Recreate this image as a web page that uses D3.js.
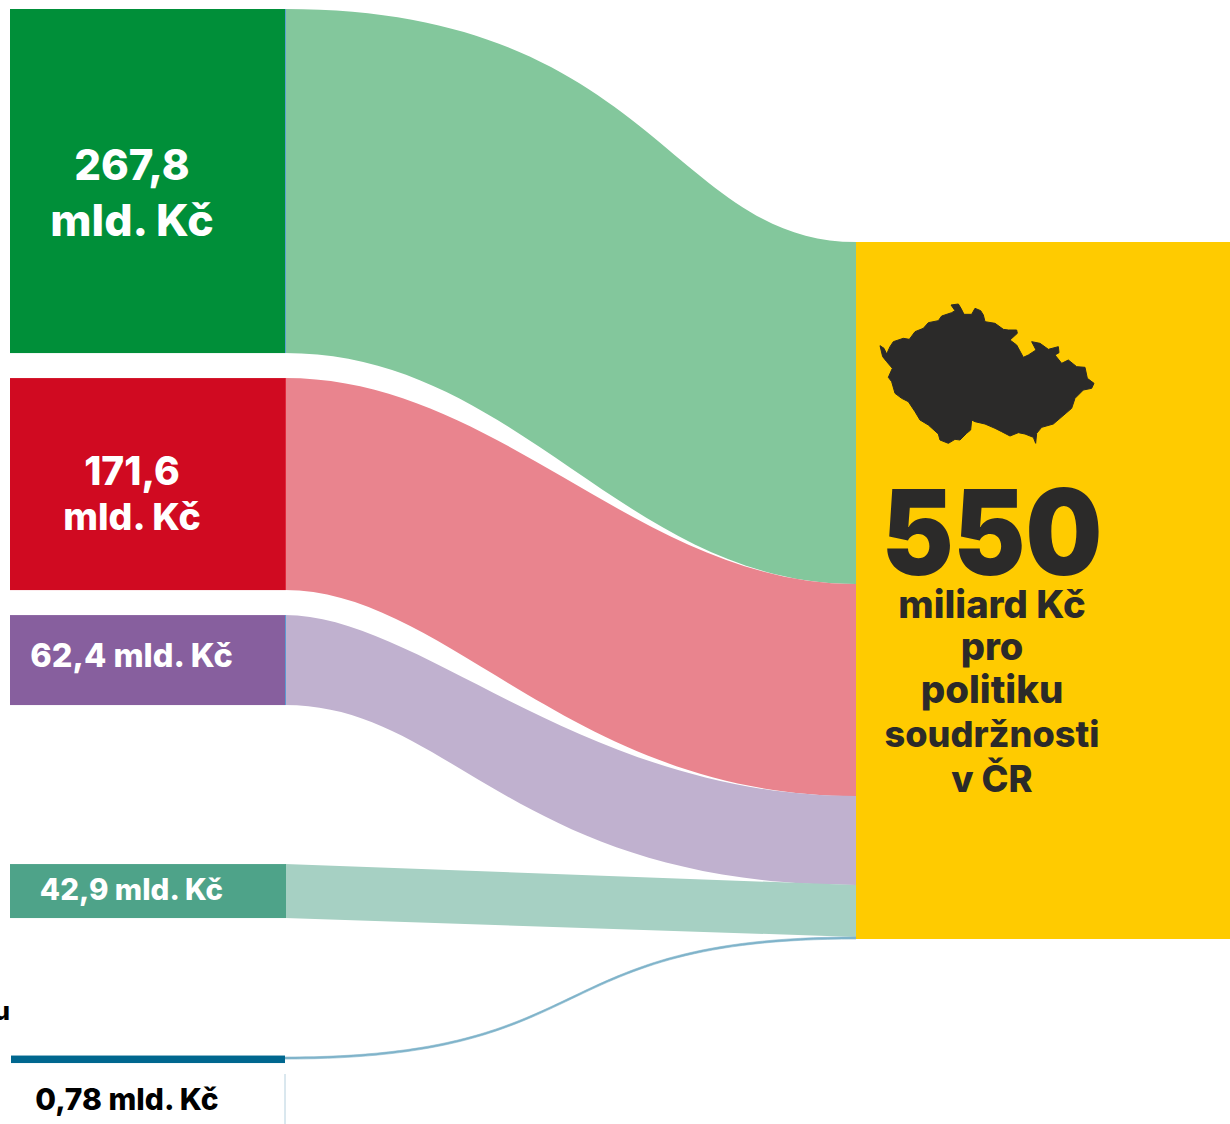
<!DOCTYPE html>
<html>
<head>
<meta charset="utf-8">
<script src="https://cdn.jsdelivr.net/npm/d3@7"></script>
<style>
  html, body { margin: 0; padding: 0; background: #fff; overflow: hidden; }
  svg { display: block; }
  text { font-family: Inter, "Open Sans", sans-serif; font-weight: 800; }
</style>
</head>
<body>
<div id="chart"></div>
<script>
// Values in mld. Kč as printed on the labels
const sources = ['eu-a', 'eu-b', 'eu-c', 'eu-d', 'eu-e'];
const labelValues = ['267,8', '171,6', '62,4', '42,9', '0,78'];
const totalValue = 550;
// Band thickness as drawn in the picture, which is not strictly to scale
const leftBands = [271.5, 167.3, 71, 42.6, 1.6];
const rightBands = [269.9, 167.3, 70.2, 41, 1.6];
const nodeColors = ['#008f39', '#d00a21', '#875f9e', '#4ea389', '#00678f'];
const ribbonColors = ['#83c79c', '#e9848e', '#c0b1cf', '#a6d0c3', '#7fb3ca'];
const edgeColors = ['#5aa0d0', '#e0283c', '#5a9ad0', '#4ea389', '#00678f'];
const totalLines = ['miliard Kč', 'pro', 'politiku', 'soudržnosti', 'v ČR'];

// Outline of the Czech Republic, in the map's own units
const mapOutline = [[60,197],[72,205],[80,222],[90,200],[100,185],[130,175],[148,178],[165,155],[190,145],[205,128],[235,122],[245,108],[275,98],[285,92],[273,75],[295,72],[303,85],[312,103],[335,103],[345,85],[362,92],[370,105],[375,125],[405,130],[430,148],[445,150],[470,150],[472,160],[450,180],[470,195],[490,232],[505,225],[528,210],[515,185],[540,190],[565,208],[595,200],[597,218],[585,225],[605,250],[625,240],[650,260],[675,262],[682,295],[702,310],[695,325],[670,330],[645,355],[635,385],[600,415],[580,432],[545,442],[530,460],[527,490],[520,472],[495,462],[475,458],[450,468],[425,455],[405,445],[375,432],[345,425],[335,420],[332,450],[320,460],[300,480],[285,478],[265,490],[240,480],[235,462],[205,435],[180,420],[165,395],[145,365],[125,355],[105,340],[95,305],[85,292],[97,265],[80,245],[68,230]];

const width = 1230, height = 1124;
const leftX = 10, leftW = 275, rightX = 856;
const leftTop = 9, rightTop = 242;
const gaps = [25, 25, 159, 139];

// Bezier control positions along the link for each edge (null = straight)
const topBends = [[0.645, 0.675], [0.377, 0.619], [0.238, 0.521], null, [0.562, 0.442]];
const bottomBends = [[0.409, 0.595], [0.284, 0.503], [0.293, 0.4], null, [0.562, 0.442]];

const svg = d3.select('#chart').append('svg')
  .attr('width', width)
  .attr('height', height);

// 550 mld. Kč takes up the whole yellow block
const y = d3.scaleLinear().domain([0, totalValue]).range([0, 697]);

// Stack the left bars with their gaps, the right side without
let leftPos = leftTop, rightPos = rightTop;
const nodes = sources.map((id, i) => {
  const h0 = y(leftBands[i]);
  const h1 = y(rightBands[i]);
  const n = { id, i, y0: leftPos, h0, r0: rightPos, h1 };
  leftPos += h0 + (gaps[i] || 0);
  rightPos += h1;
  return n;
});

const linkX0 = leftX + leftW, linkX1 = rightX;
const linkW = linkX1 - linkX0;

function ribbon(n) {
  const top = topBends[n.i], bottom = bottomBends[n.i];
  const yTop0 = n.y0, yTop1 = n.r0;
  const yBot0 = n.y0 + n.h0, yBot1 = n.r0 + n.h1;
  const p = d3.path();
  p.moveTo(linkX0, yTop0);
  if (top) p.bezierCurveTo(linkX0 + linkW * top[0], yTop0, linkX0 + linkW * top[1], yTop1, linkX1, yTop1);
  else p.lineTo(linkX1, yTop1);
  p.lineTo(linkX1, yBot1);
  // back along the lower edge
  if (bottom) p.bezierCurveTo(linkX0 + linkW * bottom[1], yBot1, linkX0 + linkW * bottom[0], yBot0, linkX0, yBot0);
  else p.lineTo(linkX0, yBot0);
  p.closePath();
  return p.toString();
}

svg.append('g').selectAll('path')
  .data(nodes)
  .join('path')
  .attr('d', ribbon)
  .attr('fill', d => ribbonColors[d.i])
  .attr('stroke', d => d.i === 4 ? ribbonColors[4] : 'none')
  .attr('stroke-width', 0.6);

// Source bars
const mainNodes = nodes.slice(0, 4);
svg.append('g').selectAll('rect')
  .data(mainNodes)
  .join('rect')
  .attr('x', leftX)
  .attr('y', d => d.y0)
  .attr('width', leftW)
  .attr('height', d => d.h0)
  .attr('fill', d => nodeColors[d.i]);

// Thin coloured edge where each ribbon leaves its bar
svg.append('g').selectAll('line')
  .data(mainNodes)
  .join('line')
  .attr('x1', linkX0 + 0.5).attr('x2', linkX0 + 0.5)
  .attr('y1', d => d.y0)
  .attr('y2', d => d.y0 + d.h0)
  .attr('stroke', d => edgeColors[d.i])
  .attr('stroke-width', 1);

// The smallest source needs a minimum bar to stay visible
const small = nodes[nodes.length - 1];
svg.append('rect')
  .attr('x', leftX + 1)
  .attr('y', small.y0 - 1.5)
  .attr('width', leftW - 1)
  .attr('height', 7.5)
  .attr('fill', nodeColors[small.i]);

// Thin rule next to the last label
svg.append('line')
  .attr('x1', 285).attr('x2', 285)
  .attr('y1', 1074).attr('y2', 1124)
  .attr('stroke', '#b5d0de')
  .attr('stroke-width', 1);

// Target block
svg.append('rect')
  .attr('x', rightX)
  .attr('y', rightTop)
  .attr('width', width - rightX)
  .attr('height', y(totalValue))
  .attr('fill', '#ffcb00');

const mapX = d3.scaleLinear().domain([0, 3]).range([860, 861]);
const mapY = d3.scaleLinear().domain([0, 3]).range([280, 281]);
svg.append('path')
  .attr('d', d3.line().x(d => mapX(d[0])).y(d => mapY(d[1])).curve(d3.curveLinearClosed)(mapOutline))
  .attr('fill', '#2b2a29')
  .attr('stroke', '#2b2a29')
  .attr('stroke-width', 1)
  .attr('stroke-linejoin', 'round');

const dark = '#2b2a29';
// The big number is a bit taller and narrower than any installed font
svg.append('text')
  .attr('transform', 'translate(992,575) scale(1,1.1)')
  .attr('text-anchor', 'middle')
  .attr('font-size', 108)
  .style('font-weight', 900)
  .attr('fill', dark)
  .text(totalValue);

const lineBase = [618, 660, 703, 747, 792];
const lineSizes = [38.2, 38, 38.4, 36.1, 36.3];
svg.append('g').selectAll('text')
  .data(totalLines)
  .join('text')
  .attr('x', 992)
  .attr('y', (d, i) => lineBase[i])
  .attr('text-anchor', 'middle')
  .attr('font-size', (d, i) => lineSizes[i])
  .attr('fill', dark)
  .text(d => d);

// Labels on the source bars
const labels = [
  { t: labelValues[0], x: 132, y: 180, s: 42, c: '#fff' },
  { t: 'mld. Kč', x: 132, y: 236, s: 44.5, c: '#fff' },
  { t: labelValues[1], x: 132, y: 485, s: 39, c: '#fff' },
  { t: 'mld. Kč', x: 132, y: 530, s: 37.5, c: '#fff' },
  { t: labelValues[2] + ' mld. Kč', x: 131.5, y: 667, s: 32.5, c: '#fff' },
  { t: labelValues[3] + ' mld. Kč', x: 131.5, y: 900, s: 29.5, c: '#fff' },
  { t: labelValues[4] + ' mld. Kč', x: 127, y: 1110, s: 30, c: '#000' },
  { t: 'u', x: 10, y: 1020, s: 26, c: '#000', a: 'end' }
];
svg.append('g').selectAll('text')
  .data(labels)
  .join('text')
  .attr('x', d => d.x)
  .attr('y', d => d.y)
  .attr('text-anchor', d => d.a || 'middle')
  .attr('font-size', d => d.s)
  .attr('fill', d => d.c)
  .text(d => d.t);
</script>
</body>
</html>
